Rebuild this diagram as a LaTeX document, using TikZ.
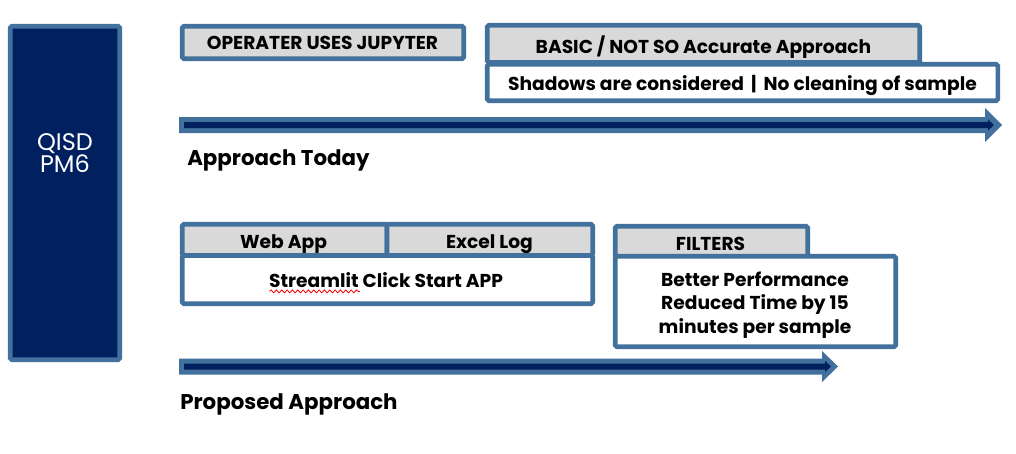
\documentclass[tikz,border=0pt]{standalone}
\usepackage{fontspec}
\setmainfont{Poppins}
\usetikzlibrary{fit,decorations.pathmorphing}

\definecolor{navy}{HTML}{002060}
\definecolor{steel}{HTML}{41719C}
\definecolor{panelgray}{HTML}{D9D9D9}

\tikzset{
  panel/.style={draw=steel, line width=3.4pt, rounded corners=1.2pt, inner sep=0pt},
  graypanel/.style={panel, fill=panelgray},
  whitepanel/.style={panel, fill=white},
  navypanel/.style={panel, fill=navy},
  lbl/.style={font=\bfseries\fontsize{14}{17.6}\selectfont, text=black, inner sep=0pt, align=center, anchor=base},
  heading/.style={font=\bfseries\fontsize{16}{19}\selectfont, text=black, inner sep=0pt},
  arrowouter/.style={fill=steel},
  arrowinner/.style={fill=navy},
}

\begin{document}
\begin{tikzpicture}[x=0.75pt, y=-0.75pt]
  % canvas
  \path[fill=white, use as bounding box] (0,0) rectangle (1016,453);

  % left block
  \node[navypanel, fit={(10.25,26.25) (119.75,359.75)}] (qisd) {};
  \node[font=\fontsize{18}{16.5}\selectfont, text=white, align=center, inner sep=0pt] (qisdlbl) at (65,153) {QISD\\PM6};

  % ---- today's approach ----
  \node[graypanel, fit={(182.25,26.25) (463.75,58.75)}] (jupyter) {};
  \node[lbl] (jupyterlbl) at (322.5,50) {OPERATER USES JUPYTER};

  \node[graypanel, fit={(487.25,25.25) (919.75,62.5)}] (basic) {};
  \node[lbl] (basiclbl) at (703.5,53.5) {BASIC / NOT SO Accurate Approach};
  \node[whitepanel, fit={(487.25,64.25) (997.75,100.75)}] (shadows) {};
  \node[lbl] (shadowslbl) at (742.5,90.5) {Shadows are considered \,|\, No cleaning of sample};

  % timeline arrow (today)
  \path[arrowouter] (179,117) -- (985,117) -- (985,108) -- (1002,125) -- (985,142) -- (985,133) -- (179,133) -- cycle;
  \path[arrowinner] (184,122) -- (988,122) -- (988,119.5) -- (994,125) -- (988,130.5) -- (988,128) -- (184,128) -- cycle;
  \node[heading, anchor=base west] (today) at (187,165) {Approach Today};

  % ---- proposed approach ----
  \node[graypanel, fit={(182.25,224.25) (387,255.5)}] (webapp) {};
  \node[graypanel, fit={(387,224.25) (592.75,255.5)}] (excel) {};
  \node[whitepanel, fit={(182.25,255.5) (592.75,303.75)}] (streamlit) {};
  \node[lbl] (webapplbl) at (283.5,248) {Web App};
  \node[lbl] (excellbl) at (489.5,248) {Excel Log};
  \node[lbl] (streamlitlbl) at (386,287) {Streamlit Click Start APP};
  \draw[red, line width=0.6pt, decorate, decoration={snake, amplitude=1.1pt, segment length=4pt}]
    ([xshift=0.5pt, yshift=-3.3pt]streamlitlbl.base west) -- ++(68pt,0);

  \node[graypanel, fit={(615.25,226.25) (807.75,256.5)}] (filters) {};
  \node[lbl] (filterslbl) at (710.5,250) {FILTERS};
  \node[whitepanel, fit={(615.25,256.25) (895.75,346.75)}] (perf) {};
  \node[lbl, anchor=center] (perflbl) at (755,305) {Better Performance\\Reduced Time by 15\\minutes per sample};

  % timeline arrow (proposed)
  \path[arrowouter] (179,358.5) -- (822,358.5) -- (822,351) -- (838,366.5) -- (822,382) -- (822,374.5) -- (179,374.5) -- cycle;
  \path[arrowinner] (184,363.5) -- (825,363.5) -- (825,361) -- (831,366.5) -- (825,372) -- (825,369.5) -- (184,369.5) -- cycle;
  \node[heading, anchor=base west] (proposed) at (180,409) {Proposed Approach};
\end{tikzpicture}
\end{document}
